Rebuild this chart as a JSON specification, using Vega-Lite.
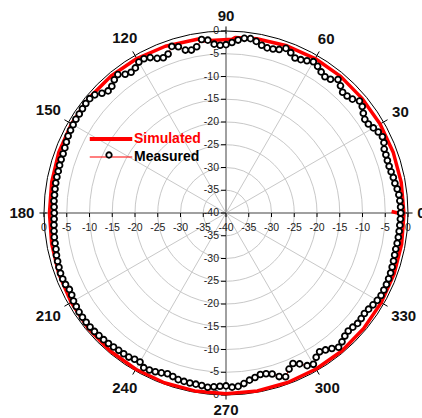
{
"$schema":"https://vega.github.io/schema/vega-lite/v6.json",
"width":364,"height":364,
"autosize":{"type":"none"},
"padding":{"left":44,"top":31,"right":14,"bottom":23},
"background":"white",
"config":{"view":{"stroke":null},"font":"Liberation Sans"},
"datasets":{
"rings":[{"r":5},{"r":10},{"r":15},{"r":20},{"r":25},{"r":30},{"r":35},{"r":40}],
"spokes":[{"angle":30},{"angle":60},{"angle":120},{"angle":150},{"angle":210},{"angle":240},{"angle":300},{"angle":330}],
"axislines":[{"angle":0},{"angle":90}],
"ticks":[{"v":-40},{"v":-35},{"v":-30},{"v":-25},{"v":-20},{"v":-15},{"v":-10},{"v":-5},{"v":0},{"v":5},{"v":10},{"v":15},{"v":20},{"v":25},{"v":30},{"v":35},{"v":40}],
"angles":[{"angle":0},{"angle":30},{"angle":60},{"angle":90},{"angle":120},{"angle":150},{"angle":180},{"angle":210},{"angle":240},{"angle":270},{"angle":300},{"angle":330}],
"curves":[
{"series":"Simulated","angle":0,"dB":-0.9},{"series":"Simulated","angle":10,"dB":-0.9},{"series":"Simulated","angle":20,"dB":-0.9},{"series":"Simulated","angle":30,"dB":-0.9},{"series":"Simulated","angle":40,"dB":-0.9},{"series":"Simulated","angle":50,"dB":-0.8},{"series":"Simulated","angle":60,"dB":-0.8},{"series":"Simulated","angle":70,"dB":-0.9},{"series":"Simulated","angle":80,"dB":-1.1},{"series":"Simulated","angle":87,"dB":-1.4},{"series":"Simulated","angle":88,"dB":-1.8},{"series":"Simulated","angle":98,"dB":-1.8},{"series":"Simulated","angle":99,"dB":-1.3},{"series":"Simulated","angle":110,"dB":-1.0},{"series":"Simulated","angle":120,"dB":-0.8},{"series":"Simulated","angle":130,"dB":-0.7},{"series":"Simulated","angle":140,"dB":-0.7},{"series":"Simulated","angle":150,"dB":-0.8},{"series":"Simulated","angle":160,"dB":-0.9},{"series":"Simulated","angle":170,"dB":-1.1},{"series":"Simulated","angle":180,"dB":-1.2},{"series":"Simulated","angle":190,"dB":-1.1},{"series":"Simulated","angle":200,"dB":-0.9},{"series":"Simulated","angle":210,"dB":-0.7},{"series":"Simulated","angle":220,"dB":-0.5},{"series":"Simulated","angle":230,"dB":-0.4},{"series":"Simulated","angle":240,"dB":-0.35},{"series":"Simulated","angle":250,"dB":-0.3},{"series":"Simulated","angle":260,"dB":-0.3},{"series":"Simulated","angle":270,"dB":-0.3},{"series":"Simulated","angle":280,"dB":-0.3},{"series":"Simulated","angle":290,"dB":-0.35},{"series":"Simulated","angle":300,"dB":-0.4},{"series":"Simulated","angle":310,"dB":-0.4},{"series":"Simulated","angle":320,"dB":-0.5},{"series":"Simulated","angle":330,"dB":-0.6},{"series":"Simulated","angle":340,"dB":-0.7},{"series":"Simulated","angle":350,"dB":-0.8},{"series":"Simulated","angle":359.5,"dB":-0.9},{"series":"Simulated","angle":360.5,"dB":-3.6},
{"series":"Measured","angle":0,"dB":-1.6},{"series":"Measured","angle":2,"dB":-1.6},{"series":"Measured","angle":4,"dB":-1.7},{"series":"Measured","angle":6,"dB":-1.8},{"series":"Measured","angle":8,"dB":-2.0},{"series":"Measured","angle":10,"dB":-2.3},{"series":"Measured","angle":12,"dB":-2.4},{"series":"Measured","angle":14,"dB":-2.6},{"series":"Measured","angle":16,"dB":-2.7},{"series":"Measured","angle":18,"dB":-2.7},
{"series":"Measured","angle":20,"dB":-2.6},{"series":"Measured","angle":22,"dB":-2.5},{"series":"Measured","angle":24,"dB":-2.0},{"series":"Measured","angle":26,"dB":-1.75},{"series":"Measured","angle":28,"dB":-2.1},{"series":"Measured","angle":30,"dB":-2.6},{"series":"Measured","angle":32,"dB":-3.1},{"series":"Measured","angle":34,"dB":-3.2},{"series":"Measured","angle":36,"dB":-2.7},{"series":"Measured","angle":38,"dB":-2.0},
{"series":"Measured","angle":40,"dB":-1.7},{"series":"Measured","angle":42,"dB":-2.6},{"series":"Measured","angle":44,"dB":-3.0},{"series":"Measured","angle":46,"dB":-3.1},{"series":"Measured","angle":48,"dB":-2.4},{"series":"Measured","angle":50,"dB":-1.7},{"series":"Measured","angle":52,"dB":-2.7},{"series":"Measured","angle":54,"dB":-3.0},{"series":"Measured","angle":56,"dB":-2.6},{"series":"Measured","angle":58,"dB":-2.0},
{"series":"Measured","angle":60,"dB":-1.6},{"series":"Measured","angle":62,"dB":-2.1},{"series":"Measured","angle":64,"dB":-2.5},{"series":"Measured","angle":66,"dB":-2.7},{"series":"Measured","angle":68,"dB":-2.0},{"series":"Measured","angle":70,"dB":-1.5},{"series":"Measured","angle":72,"dB":-2.2},{"series":"Measured","angle":74,"dB":-2.5},{"series":"Measured","angle":76,"dB":-2.6},{"series":"Measured","angle":78,"dB":-2.3},
{"series":"Measured","angle":80,"dB":-1.7},{"series":"Measured","angle":82,"dB":-1.3},{"series":"Measured","angle":84,"dB":-1.4},{"series":"Measured","angle":86,"dB":-1.9},{"series":"Measured","angle":88,"dB":-2.5},{"series":"Measured","angle":90,"dB":-3.0},{"series":"Measured","angle":92,"dB":-3.1},{"series":"Measured","angle":94,"dB":-2.8},{"series":"Measured","angle":96,"dB":-1.8},{"series":"Measured","angle":98,"dB":-1.5},
{"series":"Measured","angle":100,"dB":-2.9},{"series":"Measured","angle":102,"dB":-3.4},{"series":"Measured","angle":104,"dB":-3.1},{"series":"Measured","angle":106,"dB":-2.0},{"series":"Measured","angle":108,"dB":-1.5},{"series":"Measured","angle":110,"dB":-2.8},{"series":"Measured","angle":112,"dB":-3.2},{"series":"Measured","angle":114,"dB":-2.8},{"series":"Measured","angle":116,"dB":-2.0},{"series":"Measured","angle":118,"dB":-1.6},
{"series":"Measured","angle":120,"dB":-1.7},{"series":"Measured","angle":122,"dB":-2.4},{"series":"Measured","angle":124,"dB":-2.7},{"series":"Measured","angle":126,"dB":-2.3},{"series":"Measured","angle":128,"dB":-1.4},{"series":"Measured","angle":130,"dB":-1.8},{"series":"Measured","angle":132,"dB":-2.5},{"series":"Measured","angle":134,"dB":-2.7},{"series":"Measured","angle":136,"dB":-2.1},{"series":"Measured","angle":138,"dB":-1.2},
{"series":"Measured","angle":140,"dB":-0.9},{"series":"Measured","angle":142,"dB":-0.9},{"series":"Measured","angle":144,"dB":-1.0},{"series":"Measured","angle":146,"dB":-1.1},{"series":"Measured","angle":148,"dB":-1.1},{"series":"Measured","angle":150,"dB":-1.2},{"series":"Measured","angle":152,"dB":-1.3},{"series":"Measured","angle":154,"dB":-1.4},{"series":"Measured","angle":156,"dB":-1.6},{"series":"Measured","angle":158,"dB":-1.8},
{"series":"Measured","angle":160,"dB":-1.9},{"series":"Measured","angle":162,"dB":-1.9},{"series":"Measured","angle":164,"dB":-1.95},{"series":"Measured","angle":166,"dB":-2.0},{"series":"Measured","angle":168,"dB":-2.0},{"series":"Measured","angle":170,"dB":-2.0},{"series":"Measured","angle":172,"dB":-2.05},{"series":"Measured","angle":174,"dB":-2.1},{"series":"Measured","angle":176,"dB":-2.1},{"series":"Measured","angle":178,"dB":-2.2},
{"series":"Measured","angle":180,"dB":-2.25},{"series":"Measured","angle":182,"dB":-2.2},{"series":"Measured","angle":184,"dB":-2.1},{"series":"Measured","angle":186,"dB":-2.0},{"series":"Measured","angle":188,"dB":-1.9},{"series":"Measured","angle":190,"dB":-1.85},{"series":"Measured","angle":192,"dB":-1.8},{"series":"Measured","angle":194,"dB":-1.6},{"series":"Measured","angle":196,"dB":-1.5},{"series":"Measured","angle":198,"dB":-1.4},
{"series":"Measured","angle":200,"dB":-1.3},{"series":"Measured","angle":202,"dB":-1.3},{"series":"Measured","angle":204,"dB":-1.4},{"series":"Measured","angle":206,"dB":-1.7},{"series":"Measured","angle":208,"dB":-1.6},{"series":"Measured","angle":210,"dB":-1.3},{"series":"Measured","angle":212,"dB":-1.2},{"series":"Measured","angle":214,"dB":-1.05},{"series":"Measured","angle":216,"dB":-1.0},{"series":"Measured","angle":218,"dB":-1.0},
{"series":"Measured","angle":220,"dB":-1.0},{"series":"Measured","angle":222,"dB":-1.1},{"series":"Measured","angle":224,"dB":-1.2},{"series":"Measured","angle":226,"dB":-1.3},{"series":"Measured","angle":228,"dB":-1.4},{"series":"Measured","angle":230,"dB":-1.55},{"series":"Measured","angle":232,"dB":-1.7},{"series":"Measured","angle":234,"dB":-1.75},{"series":"Measured","angle":236,"dB":-1.8},{"series":"Measured","angle":238,"dB":-2.1},
{"series":"Measured","angle":240,"dB":-2.2},{"series":"Measured","angle":242,"dB":-1.5},{"series":"Measured","angle":244,"dB":-1.6},{"series":"Measured","angle":246,"dB":-1.8},{"series":"Measured","angle":248,"dB":-2.1},{"series":"Measured","angle":250,"dB":-2.4},{"series":"Measured","angle":252,"dB":-2.2},{"series":"Measured","angle":254,"dB":-1.9},{"series":"Measured","angle":256,"dB":-1.85},{"series":"Measured","angle":258,"dB":-1.8},
{"series":"Measured","angle":260,"dB":-1.8},{"series":"Measured","angle":262,"dB":-1.7},{"series":"Measured","angle":264,"dB":-1.5},{"series":"Measured","angle":266,"dB":-1.7},{"series":"Measured","angle":268,"dB":-1.9},{"series":"Measured","angle":270,"dB":-2.0},{"series":"Measured","angle":272,"dB":-1.7},{"series":"Measured","angle":274,"dB":-1.8},{"series":"Measured","angle":276,"dB":-2.3},{"series":"Measured","angle":278,"dB":-2.9},
{"series":"Measured","angle":280,"dB":-3.3},{"series":"Measured","angle":282,"dB":-3.7},{"series":"Measured","angle":284,"dB":-3.6},{"series":"Measured","angle":286,"dB":-3.2},{"series":"Measured","angle":288,"dB":-2.2},{"series":"Measured","angle":290,"dB":-1.7},{"series":"Measured","angle":292,"dB":-3.0},{"series":"Measured","angle":294,"dB":-3.8},{"series":"Measured","angle":296,"dB":-3.1},{"series":"Measured","angle":298,"dB":-2.0},
{"series":"Measured","angle":300,"dB":-1.6},{"series":"Measured","angle":302,"dB":-2.6},{"series":"Measured","angle":304,"dB":-3.2},{"series":"Measured","angle":306,"dB":-2.8},{"series":"Measured","angle":308,"dB":-2.2},{"series":"Measured","angle":310,"dB":-1.5},{"series":"Measured","angle":312,"dB":-1.9},{"series":"Measured","angle":314,"dB":-2.4},{"series":"Measured","angle":316,"dB":-2.65},{"series":"Measured","angle":318,"dB":-2.5},
{"series":"Measured","angle":320,"dB":-2.25},{"series":"Measured","angle":322,"dB":-2.3},{"series":"Measured","angle":324,"dB":-2.4},{"series":"Measured","angle":326,"dB":-2.2},{"series":"Measured","angle":328,"dB":-1.9},{"series":"Measured","angle":330,"dB":-1.6},{"series":"Measured","angle":332,"dB":-1.4},{"series":"Measured","angle":334,"dB":-1.4},{"series":"Measured","angle":336,"dB":-1.4},{"series":"Measured","angle":338,"dB":-1.45},
{"series":"Measured","angle":340,"dB":-1.5},{"series":"Measured","angle":342,"dB":-1.6},{"series":"Measured","angle":344,"dB":-1.7},{"series":"Measured","angle":346,"dB":-1.8},{"series":"Measured","angle":348,"dB":-1.86},{"series":"Measured","angle":350,"dB":-1.8},{"series":"Measured","angle":352,"dB":-1.75},{"series":"Measured","angle":354,"dB":-1.73},{"series":"Measured","angle":356,"dB":-1.7},{"series":"Measured","angle":358,"dB":-1.65},{"series":"Measured","angle":360,"dB":-1.6}
]},
"layer":[
{"data":{"name":"rings"},
 "transform":[{"calculate":"0","as":"cx"},{"calculate":"0","as":"cy"}],
 "mark":{"type":"point","shape":"circle","filled":false,"strokeWidth":1,"opacity":1},
 "encoding":{
  "x":{"field":"cx","type":"quantitative","scale":{"domain":[-40,40],"nice":false,"zero":false},"axis":null},
  "y":{"field":"cy","type":"quantitative","scale":{"domain":[-40,40],"nice":false,"zero":false},"axis":null},
  "size":{"field":"r","type":"quantitative","scale":{"type":"pow","exponent":2,"domain":[0,40],"range":[0,132496],"zero":true},"legend":null},
  "stroke":{"condition":{"test":"datum.r===40","value":"#000000"},"value":"#c8c8c8"}
 }},
{"data":{"name":"spokes"},
 "transform":[{"calculate":"0","as":"sx"},{"calculate":"0","as":"sy"},{"calculate":"40*cos(datum.angle*PI/180)","as":"ex"},{"calculate":"40*sin(datum.angle*PI/180)","as":"ey"}],
 "mark":{"type":"rule","color":"#c8c8c8","strokeWidth":1},
 "encoding":{
  "x":{"field":"sx","type":"quantitative","scale":{"domain":[-40,40],"nice":false,"zero":false},"axis":null},
  "y":{"field":"sy","type":"quantitative","scale":{"domain":[-40,40],"nice":false,"zero":false},"axis":null},
  "x2":{"field":"ex"},"y2":{"field":"ey"}
 }},
{"data":{"name":"axislines"},
 "transform":[{"calculate":"-40*cos(datum.angle*PI/180)","as":"sx"},{"calculate":"-40*sin(datum.angle*PI/180)","as":"sy"},{"calculate":"40*cos(datum.angle*PI/180)","as":"ex"},{"calculate":"40*sin(datum.angle*PI/180)","as":"ey"}],
 "mark":{"type":"rule","color":"#a0a0a0","strokeWidth":2},
 "encoding":{
  "x":{"field":"sx","type":"quantitative","scale":{"domain":[-40,40],"nice":false,"zero":false},"axis":null},
  "y":{"field":"sy","type":"quantitative","scale":{"domain":[-40,40],"nice":false,"zero":false},"axis":null},
  "x2":{"field":"ex"},"y2":{"field":"ey"}
 }},
{"data":{"name":"ticks"},
 "transform":[{"calculate":"0","as":"z"}],
 "mark":{"type":"tick","orient":"vertical","size":4,"thickness":1,"yOffset":2,"color":"#000000","opacity":1},
 "encoding":{
  "x":{"field":"v","type":"quantitative","scale":{"domain":[-40,40],"nice":false,"zero":false},"axis":null},
  "y":{"field":"z","type":"quantitative","scale":{"domain":[-40,40],"nice":false,"zero":false},"axis":null}
 }},
{"data":{"name":"ticks"},
 "transform":[{"calculate":"0","as":"z"}],
 "mark":{"type":"tick","orient":"horizontal","size":5,"thickness":1,"xOffset":-2.5,"color":"#000000","opacity":1},
 "encoding":{
  "x":{"field":"z","type":"quantitative","scale":{"domain":[-40,40],"nice":false,"zero":false},"axis":null},
  "y":{"field":"v","type":"quantitative","scale":{"domain":[-40,40],"nice":false,"zero":false},"axis":null}
 }},
{"data":{"name":"ticks"},
 "transform":[{"calculate":"0","as":"z"},{"calculate":"abs(datum.v)-40","as":"lab"}],
 "mark":{"type":"text","font":"Liberation Sans","fontSize":10.5,"color":"#222222","align":"center","baseline":"middle","dy":15},
 "encoding":{
  "x":{"field":"v","type":"quantitative","scale":{"domain":[-40,40],"nice":false,"zero":false},"axis":null},
  "y":{"field":"z","type":"quantitative","scale":{"domain":[-40,40],"nice":false,"zero":false},"axis":null},
  "text":{"field":"lab","type":"nominal"}
 }},
{"data":{"name":"ticks"},
 "transform":[{"calculate":"0","as":"z"},{"calculate":"abs(datum.v)-40","as":"lab"}],
 "mark":{"type":"text","font":"Liberation Sans","fontSize":10.5,"color":"#222222","align":"right","baseline":"middle","dx":-7},
 "encoding":{
  "x":{"field":"z","type":"quantitative","scale":{"domain":[-40,40],"nice":false,"zero":false},"axis":null},
  "y":{"field":"v","type":"quantitative","scale":{"domain":[-40,40],"nice":false,"zero":false},"axis":null},
  "text":{"field":"lab","type":"nominal"}
 }},
{"data":{"name":"angles"},
 "transform":[{"calculate":"39.4*cos(datum.angle*PI/180)","as":"ax"},{"calculate":"39.4*sin(datum.angle*PI/180)","as":"ay"},{"calculate":"41*cos(datum.angle*PI/180)","as":"bx"},{"calculate":"41*sin(datum.angle*PI/180)","as":"by"}],
 "mark":{"type":"rule","color":"#000000","strokeWidth":1},
 "encoding":{
  "x":{"field":"ax","type":"quantitative","scale":{"domain":[-40,40],"nice":false,"zero":false},"axis":null},
  "y":{"field":"ay","type":"quantitative","scale":{"domain":[-40,40],"nice":false,"zero":false},"axis":null},
  "x2":{"field":"bx"},"y2":{"field":"by"}
 }},
{"data":{"name":"curves"},
 "transform":[{"calculate":"(datum.dB+40)*cos(datum.angle*PI/180)","as":"px"},{"calculate":"(datum.dB+40)*sin(datum.angle*PI/180)","as":"py"}],
 "mark":{"type":"line","strokeJoin":"round"},
 "encoding":{
  "x":{"field":"px","type":"quantitative","scale":{"domain":[-40,40],"nice":false,"zero":false},"axis":null},
  "y":{"field":"py","type":"quantitative","scale":{"domain":[-40,40],"nice":false,"zero":false},"axis":null},
  "order":{"field":"angle","type":"quantitative"},
  "stroke":{"field":"series","type":"nominal","scale":{"domain":["Simulated","Measured"],"range":["#ff0000","#ff0000"]},
   "legend":{"title":null,"orient":"none","legendX":60,"legendY":101,"symbolType":"M-2.5,0H2.5","symbolSize":289,"symbolStrokeWidth":1,"labelFont":"Liberation Sans","labelFontSize":14,"labelFontWeight":"bold","labelOffset":16,"rowPadding":3,"padding":0,"zindex":1,
    "encode":{"symbols":{"update":{"strokeWidth":{"signal":"datum.value==='Simulated'?4:1.2"}}},"labels":{"update":{"fill":{"signal":"datum.value==='Simulated'?'#ff0000':'#000000'"}}}}}},
  "strokeWidth":{"condition":{"test":"datum.series==='Simulated'","value":3.5},"value":1}
 }},
{"data":{"name":"curves"},
 "transform":[{"filter":"datum.series==='Measured'"},{"calculate":"(datum.dB+40)*cos(datum.angle*PI/180)","as":"px"},{"calculate":"(datum.dB+40)*sin(datum.angle*PI/180)","as":"py"}],
 "mark":{"type":"point","shape":"circle","filled":true,"stroke":"#000000","strokeWidth":1.8,"size":34,"opacity":1},
 "encoding":{
  "x":{"field":"px","type":"quantitative","scale":{"domain":[-40,40],"nice":false,"zero":false},"axis":null},
  "y":{"field":"py","type":"quantitative","scale":{"domain":[-40,40],"nice":false,"zero":false},"axis":null},
  "fill":{"field":"series","type":"nominal","scale":{"domain":["Measured"],"range":["#ffffff"]},
   "legend":{"title":null,"orient":"none","legendX":61,"legendY":120,"symbolType":"circle","symbolSize":30,"symbolStrokeColor":"#000000","symbolStrokeWidth":1.8,"symbolOpacity":1,"labelExpr":"''","labelFontSize":8,"padding":0,"zindex":2,
    "encode":{"symbols":{"update":{"stroke":{"value":"#000000"},"strokeWidth":{"value":1.8}}}}}}
 }},
{"data":{"name":"angles"},
 "transform":[{"calculate":"42+abs(cos(datum.angle*PI/180))*length(toString(datum.angle))*0.95+abs(sin(datum.angle*PI/180))*1.25","as":"lr"},{"calculate":"datum.lr*cos(datum.angle*PI/180)","as":"lx"},{"calculate":"datum.lr*sin(datum.angle*PI/180)","as":"ly"}],
 "mark":{"type":"text","font":"Liberation Sans","fontSize":15,"fontWeight":"bold","align":"center","baseline":"middle","color":"#111111"},
 "encoding":{
  "x":{"field":"lx","type":"quantitative","scale":{"domain":[-40,40],"nice":false,"zero":false},"axis":null},
  "y":{"field":"ly","type":"quantitative","scale":{"domain":[-40,40],"nice":false,"zero":false},"axis":null},
  "text":{"field":"angle","type":"nominal"}
 }}
]
}
